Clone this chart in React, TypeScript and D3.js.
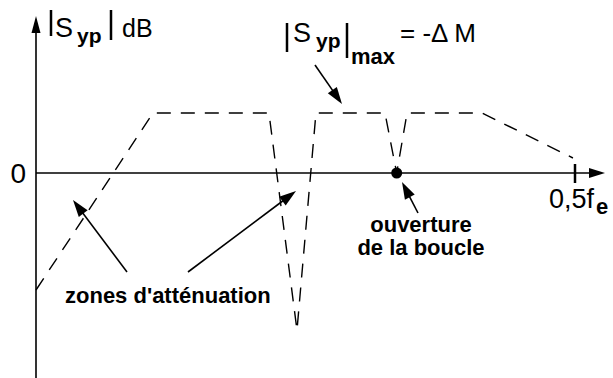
import React from 'react'
import { scaleLinear, line } from 'd3'

const width = 613
const height = 378

// frequency (fraction of fe) and |Syp| in units of ΔM
const freq = [0, 0.1085, 0.2161, 0.2421, 0.2597, 0.3237, 0.3346, 0.3442, 0.4137, 0.4981]
const gain = [-1.95, 1, 1, -2.62, 1, 1, 0, 1, 1, 0.25]
const openLoopFreq = 0.3346
const xTickLabel = '0,5f'
const yTickLabel = '0'

const xScale = scaleLinear().domain([0, 0.5]).range([36, 575])
const yScale = scaleLinear().domain([0, 1]).range([173, 113])

const font = '"Liberation Sans", Arial, sans-serif'

function Arrow({ x1, y1, x2, y2, len = 17, w = 5.5 }: { x1: number; y1: number; x2: number; y2: number; len?: number; w?: number }) {
  const dx = x2 - x1
  const dy = y2 - y1
  const d = Math.sqrt(dx * dx + dy * dy)
  const ux = dx / d
  const uy = dy / d
  const bx = x2 - ux * len
  const by = y2 - uy * len
  return (
    <g>
      <line x1={x1} y1={y1} x2={bx + ux * 2} y2={by + uy * 2} stroke="black" strokeWidth={1.6} />
      <polygon points={`${x2},${y2} ${bx - uy * w},${by + ux * w} ${bx + uy * w},${by - ux * w}`} fill="black" />
    </g>
  )
}

export default function App() {
  const pts = freq.map((f, i) => [xScale(f), yScale(gain[i])] as [number, number])
  const path = line()(pts) || ''
  const y0 = yScale(0)
  const x0 = xScale(0)
  const xEnd = xScale(0.5)
  return (
    <svg width={width} height={height} style={{ position: 'absolute', left: 0, top: 0, background: 'white' }} fontFamily={font}>
      {/* axes */}
      <line x1={x0} y1={height} x2={x0} y2={30} stroke="black" strokeWidth={1.6} />
      <polygon points={`${x0},16 ${x0 - 4.5},33 ${x0 + 4.5},33`} fill="black" />
      <line x1={x0} y1={y0} x2={592} y2={y0} stroke="black" strokeWidth={1.6} />
      <polygon points={`605,${y0} 589,${y0 - 5} 589,${y0 + 5}`} fill="black" />
      <line x1={xEnd} y1={y0 - 9} x2={xEnd} y2={y0 + 10} stroke="black" strokeWidth={2.5} />

      {/* response */}
      <path d={path} fill="none" stroke="black" strokeWidth={1.4} strokeDasharray="14 10" />
      <circle cx={xScale(openLoopFreq)} cy={y0} r={5.5} fill="black" />

      {/* tick labels */}
      <text x={26} y={183} fontSize={28} textAnchor="end">{yTickLabel}</text>
      <text x={549} y={208} fontSize={27}>{xTickLabel}</text>
      <text x={596} y={214} fontSize={22} fontWeight="bold">e</text>

      {/* axis title */}
      <line x1={51} y1={10} x2={51} y2={36} stroke="black" strokeWidth={2.5} />
      <text x={55} y={37} fontSize={27}>S</text>
      <text x={77} y={43} fontSize={21} fontWeight="bold">yp</text>
      <line x1={111} y1={10} x2={111} y2={40} stroke="black" strokeWidth={2.5} />
      <text x={122} y={37} fontSize={25}>dB</text>

      {/* max annotation */}
      <line x1={287} y1={23} x2={287} y2={52} stroke="black" strokeWidth={2.5} />
      <text x={293} y={42} fontSize={27}>S</text>
      <text x={316} y={48} fontSize={21} fontWeight="bold">yp</text>
      <line x1={347} y1={23} x2={347} y2={58} stroke="black" strokeWidth={2.5} />
      <text x={351} y={64} fontSize={22} fontWeight="bold">max</text>
      <text x={400} y={42} fontSize={26}>= -Δ M</text>
      <Arrow x1={315} y1={65} x2={342} y2={104} />

      {/* attenuation zones */}
      <text x={65} y={303} fontSize={22} fontWeight="bold">zones d'atténuation</text>
      <Arrow x1={127} y1={272} x2={73} y2={200} />
      <Arrow x1={188} y1={272} x2={296} y2={191} />

      {/* loop opening */}
      <text x={421} y={232} fontSize={22} fontWeight="bold" textAnchor="middle">ouverture</text>
      <text x={421} y={255} fontSize={22} fontWeight="bold" textAnchor="middle">de la boucle</text>
      <Arrow x1={418} y1={213} x2={402} y2={182} />
    </svg>
  )
}
